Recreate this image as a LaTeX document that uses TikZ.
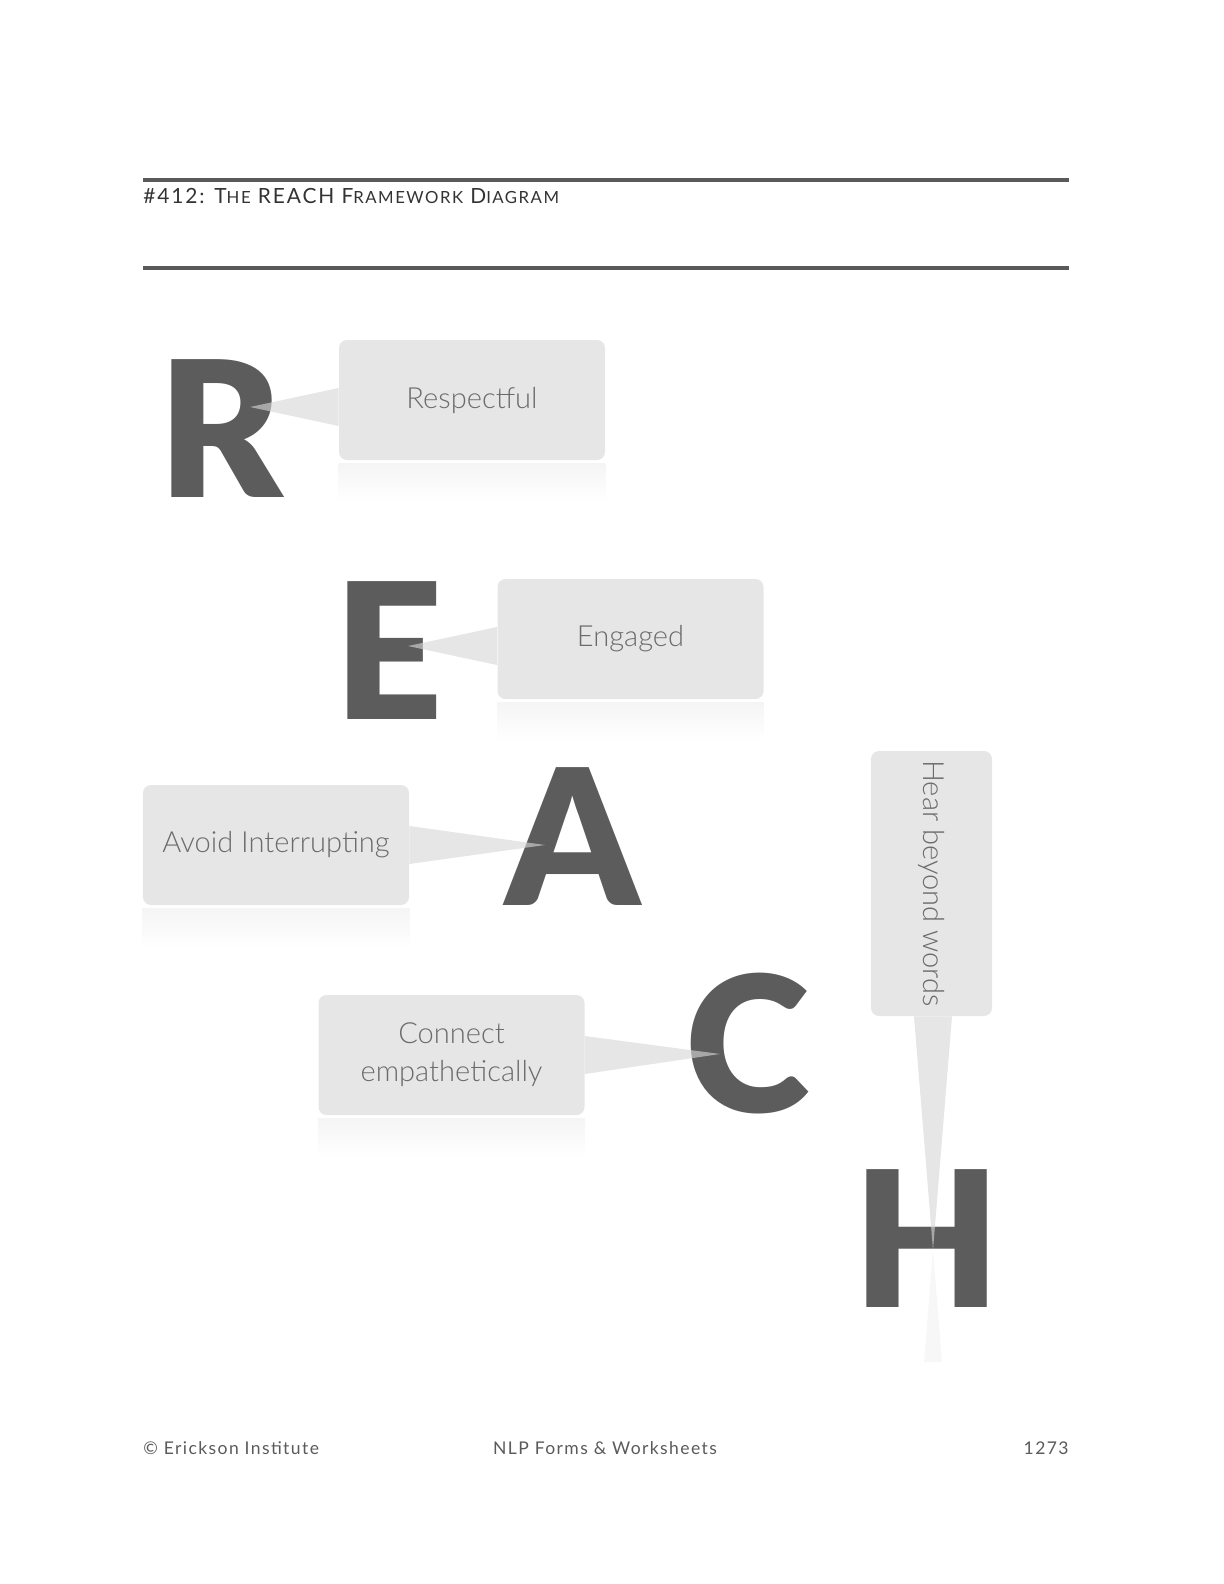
\documentclass[tikz,border=0pt]{standalone}
\usepackage{fontspec}
\setmainfont{Lato}
\newfontfamily\lightfont{Lato}[UprightFont=* Light]
\newfontfamily\heavyfont{Lato}[UprightFont=* Black]
\usetikzlibrary{positioning,calc}
\definecolor{lettergray}{HTML}{5C5C5C}
\definecolor{boxgray}{HTML}{E6E6E6}
\definecolor{wedgegray}{HTML}{D6D6D6}
\definecolor{labelgray}{HTML}{6B6B6B}
\definecolor{rulegray}{HTML}{5A5A5A}
\begin{document}
\begin{tikzpicture}[x=0.5bp,y=-0.5bp,
        letter/.style={inner sep=0pt,anchor=base,text=lettergray,
                font=\heavyfont\fontsize{95}{95}\selectfont},
        bubble/.style={fill=boxgray,rounded corners=4pt,inner sep=0pt,
                minimum width=133bp,minimum height=60bp,text=labelgray,
                align=center,font=\lightfont\fontsize{14.6}{19}\selectfont},
        wedge/.style={fill=wedgegray,fill opacity=0.62},
        foot/.style={inner sep=0pt,text=rulegray,
                font=\fontsize{8.8}{10}\selectfont\addfontfeatures{LetterSpace=8}}]
        \useasboundingbox (0,0) rectangle (1224,1584);

        % header
        \draw[rulegray,line width=2bp] (143,180) -- (1069,180);
        \draw[rulegray,line width=2bp] (143,268) -- (1069,268);
        \node[inner sep=0pt,anchor=base west,text=black!80,
                font=\fontsize{10.5}{12}\selectfont\addfontfeatures{LetterSpace=9}]
                (T) at (143,203) {\#412: T{\fontsize{8.4}{10}\selectfont HE}
                REACH F{\fontsize{8.4}{10}\selectfont RAMEWORK} D{\fontsize{8.4}{10}\selectfont IAGRAM}};

        % letters
        \node[letter] (R) at (221,497) {R};
        \node[letter] (E) at (389,719) {E};
        \node[letter] (A) at (573,905) {A};
        \node[letter] (C) at (748,1112) {C};
        \node[letter] (H) at (927,1307) {H};

        % bubbles
        \node[bubble] (Resp) at (472,400) {Respectful};
        \node[bubble] (Eng) at (630.5,639) {Engaged};
        \node[bubble] (Avoid) at (276,845) {Avoid Interrupting};
        \node[bubble] (Conn) at (451.5,1055) {Connect\\empathetically};
        \node[bubble,minimum width=60.5bp,minimum height=132.5bp] (Hear) at (931.5,883.5) {};
        \node[text=labelgray,rotate=-90,inner sep=0pt,
                font=\lightfont\fontsize{14.6}{19}\selectfont] (HearT) at (Hear.center) {Hear beyond words};

        % reflections
        \foreach \B in {Resp,Eng,Avoid,Conn}
        {\shade[top color=black!4,bottom color=white]
                ($(\B.south west)+(0,3)$) rectangle ($(\B.south east)+(0,42)$);}

        % pointers
        \coordinate (tipR) at (250,407);
        \coordinate (tipE) at (408,646);
        \coordinate (tipA) at (545,845);
        \coordinate (tipC) at (720,1054);
        \coordinate (tipH) at (933,1250);
        \coordinate (endH) at (933,1362);
        \fill[wedge] ($(Resp.west)+(0,-12)$) -- (tipR) -- ($(Resp.west)+(0,26)$) -- cycle;
        \fill[wedge] ($(Eng.west)+(0,-12)$) -- (tipE) -- ($(Eng.west)+(0,26)$) -- cycle;
        \fill[wedge] ($(Avoid.east)+(0,-19)$) -- (tipA) -- ($(Avoid.east)+(0,19)$) -- cycle;
        \fill[wedge] ($(Conn.east)+(0,-19)$) -- (tipC) -- ($(Conn.east)+(0,19)$) -- cycle;
        \fill[wedge] ($(Hear.south)+(-17.5,0)$) -- (tipH) -- ($(Hear.south)+(20.5,0)$) -- cycle;
        \fill[white!97!black] (tipH) -- ($(endH)+(-9,0)$) -- ($(endH)+(9,0)$) -- cycle;

        % footer
        \node[foot,anchor=base west] (F1) at (143,1454) {\textcopyright{} Erickson Institute};
        \node[foot,anchor=base] (F2) at (605,1454) {NLP Forms \& Worksheets};
        \node[foot,anchor=base east] (F3) at (1069,1454) {1273};
\end{tikzpicture}
\end{document}
